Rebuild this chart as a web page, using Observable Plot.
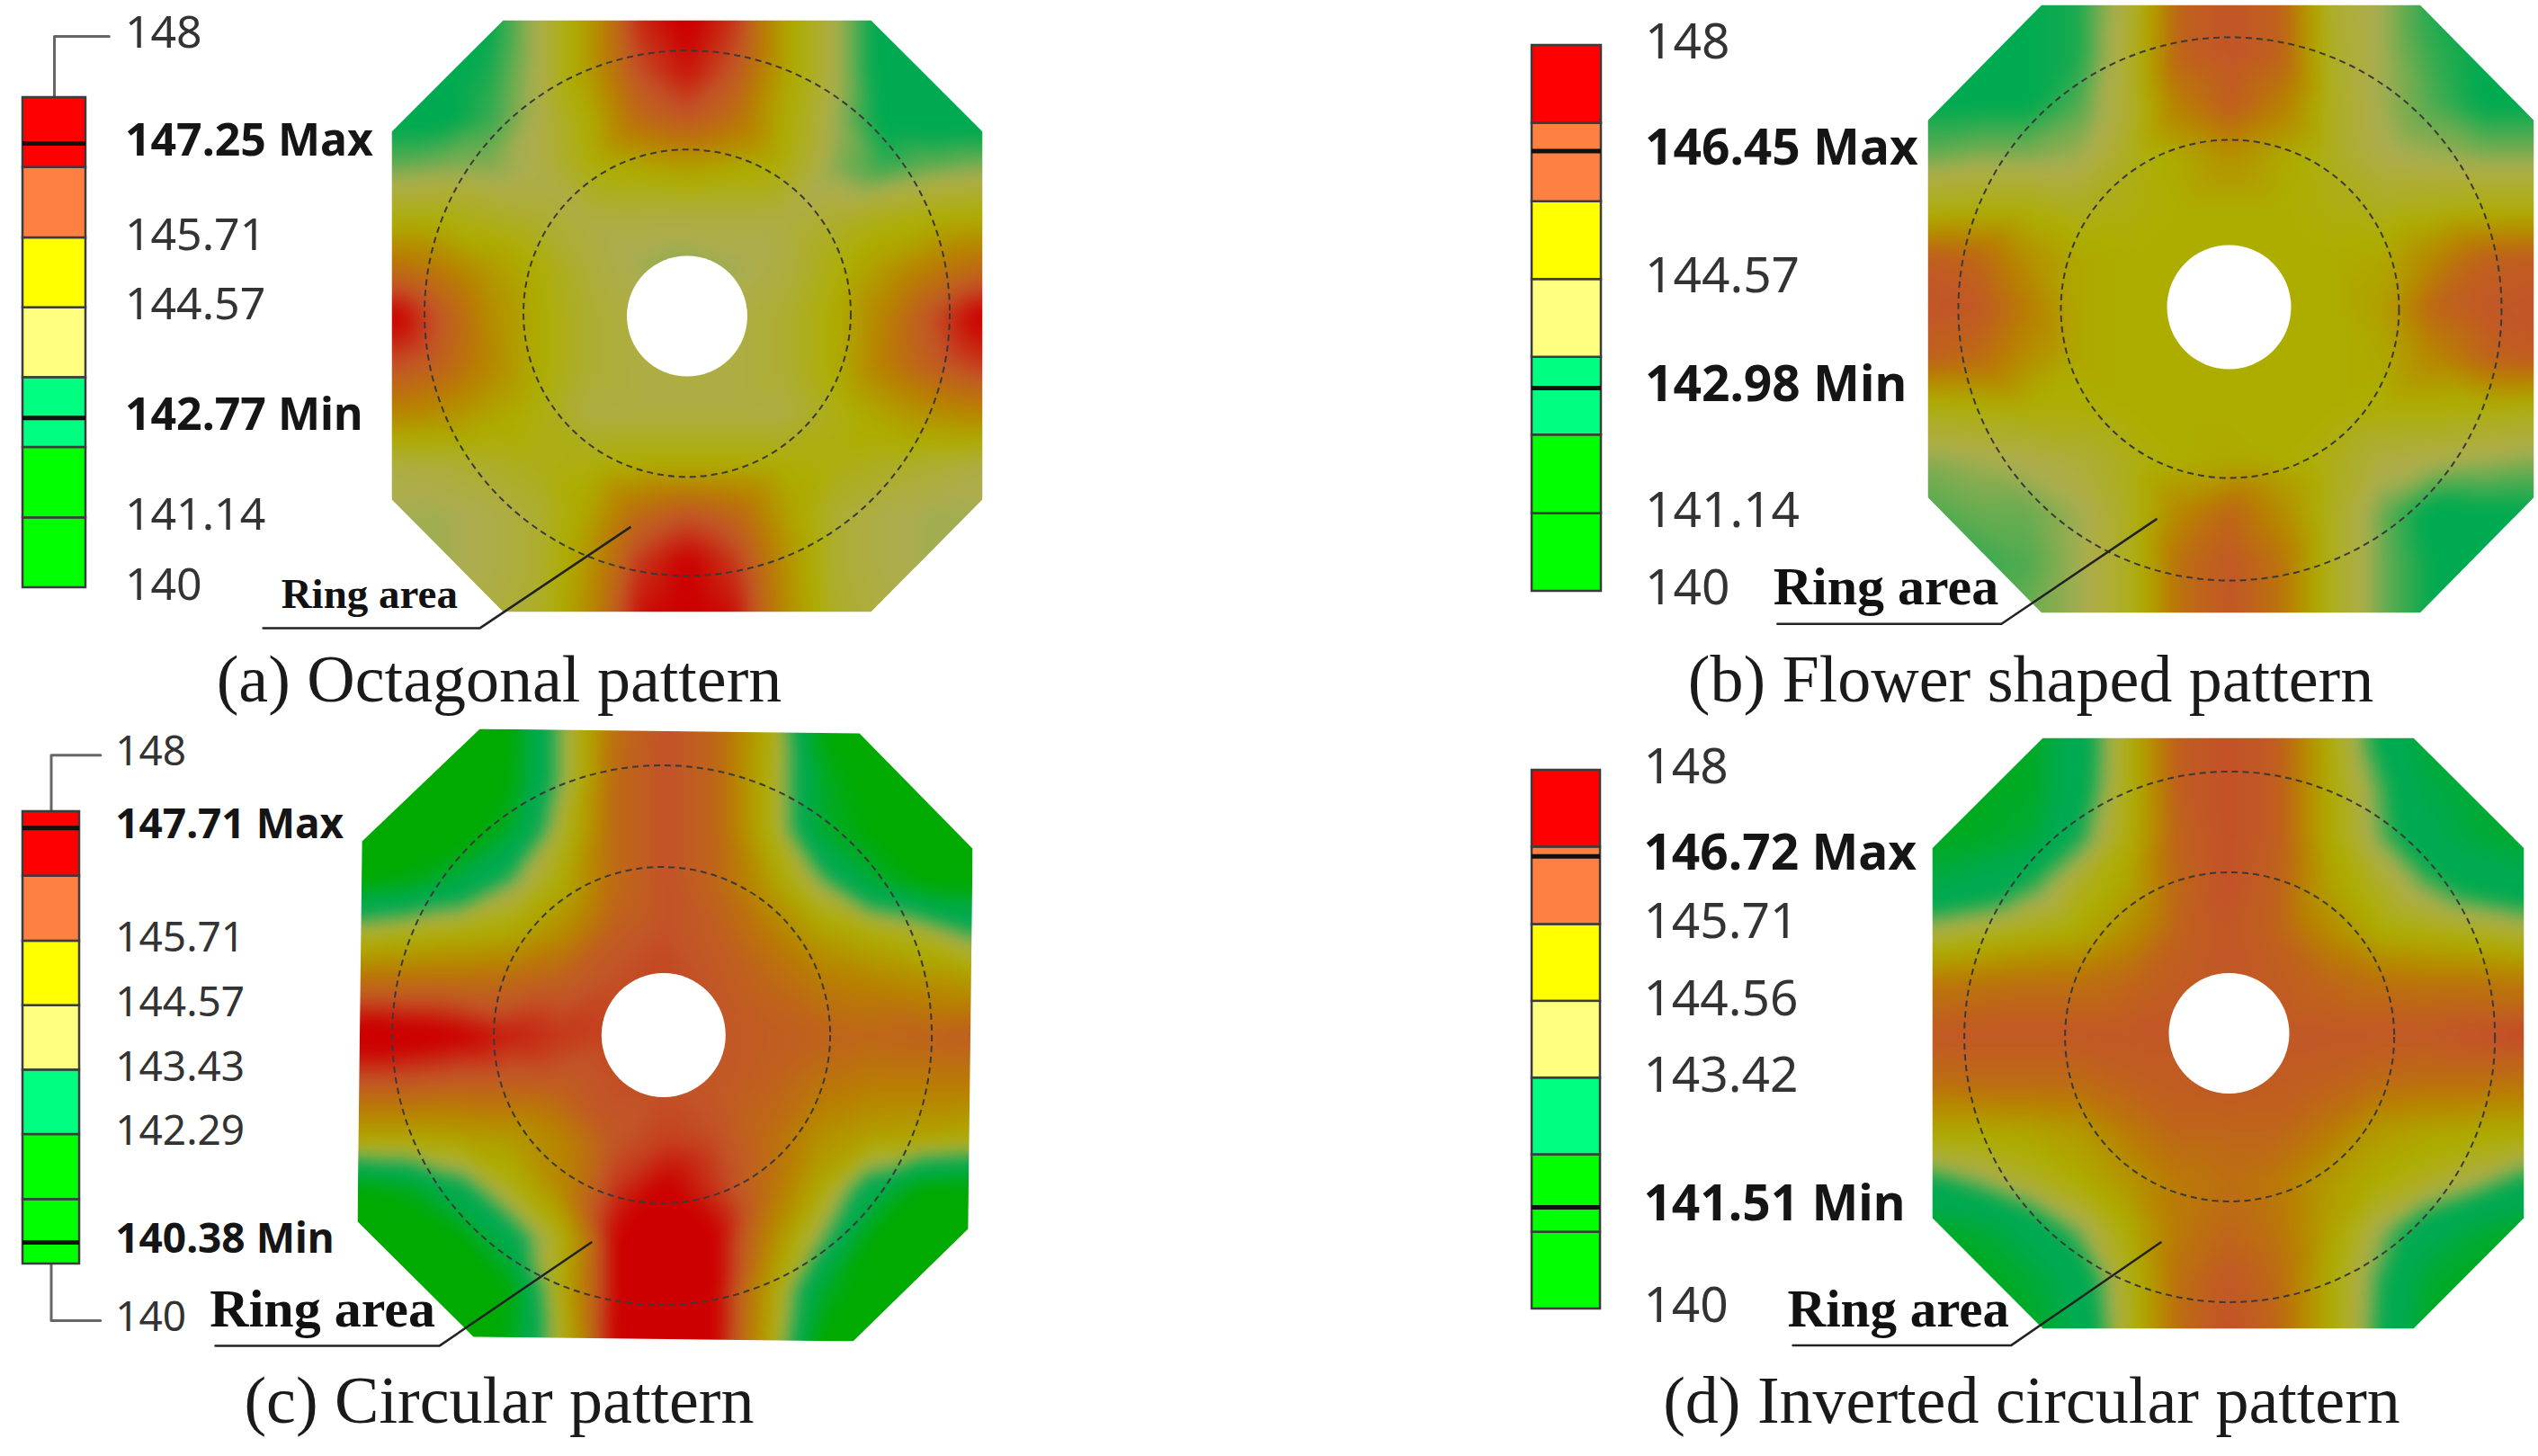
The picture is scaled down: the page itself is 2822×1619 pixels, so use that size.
<!DOCTYPE html>
<html><head><meta charset="utf-8">
<script src="https://cdn.jsdelivr.net/npm/d3@7"></script>
<script src="https://cdn.jsdelivr.net/npm/@observablehq/plot@0.6"></script>
<style>
html,body{margin:0;padding:0;background:#fff}
#page{position:relative;width:2822px;height:1619px;background:#fff;overflow:hidden}
.cap{position:absolute;font-family:"Liberation Serif",serif;font-size:74px;line-height:1;white-space:nowrap;transform:translateX(-50%);color:#1a1a1a}
</style></head><body><div id="page"></div>
<script>
// Temperature grid nodes, plate coordinates from -1 to 1
const gridStops = [-1,-0.8333,-0.6667,-0.5,-0.3333,-0.1667,0,0.1667,0.3333,0.5,0.6667,0.8333,1];
const bandEdges = [140,141.14,142.29,143.43,144.57,145.71,146.86,148];
const bandColors = ["#00ff00","#00ff00","#00ff80","#ffff80","#ffff00","#ff8040","#ff0000"];
const heatValues = [141.2,142.3,143.0,143.65,144.6,145.5,146.45,147.15];
const heatColors = ["#00aa00","#00aa50","#00aa50","#adad50","#adad00","#b88200","#c25528","#cc0000"];

const plateA = [
[142.9,142.9,143.0,143.7,145.0,146.8,147.25,146.7,144.8,143.7,142.8,142.8,142.8],
[142.9,142.9,143.1,143.7,145.0,146.5,147.0,146.4,144.8,143.7,142.8,142.8,142.8],
[142.9,142.9,143.2,143.7,144.6,146.0,146.4,145.9,144.6,143.6,142.9,142.8,142.8],
[143.4,143.5,143.5,143.7,144.4,144.7,144.9,144.7,144.4,143.5,143.2,143.4,143.5],
[144.4,144.4,144.2,144.0,143.8,143.8,143.8,143.8,143.8,144.0,144.3,144.5,144.6],
[145.9,145.6,145.0,144.5,143.9,143.6,143.5,143.6,143.8,144.4,145.0,145.6,146.0],
[147.25,146.4,145.3,144.6,144.0,143.8,143.7,143.8,144.0,144.6,145.5,146.5,147.25],
[146.5,146.2,145.4,144.6,144.0,143.8,143.8,143.8,144.0,144.6,145.6,146.3,146.7],
[145.4,145.2,144.8,144.4,143.8,143.8,143.8,143.8,143.8,144.3,144.8,145.2,145.4],
[143.8,143.9,144.1,144.3,144.4,144.6,144.6,144.6,144.5,144.4,144.2,144.0,143.8],
[143.6,143.6,143.7,144.0,144.8,146.0,146.4,146.1,144.9,144.0,143.7,143.6,143.6],
[143.6,143.6,143.7,144.0,145.1,146.7,147.2,146.7,145.2,144.0,143.7,143.6,143.6],
[143.6,143.6,143.8,144.1,145.3,147.0,147.25,147.0,145.3,144.1,143.8,143.6,143.6]];
const plateB = [
[143.0,143.0,143.0,143.1,143.9,146.2,146.45,146.2,144.0,143.6,143.1,143.0,143.0],
[143.0,143.0,143.0,143.1,144.0,146.2,146.45,146.2,144.1,143.6,143.2,143.0,143.0],
[143.0,143.0,143.0,143.3,144.0,145.6,146.3,145.6,144.2,143.6,143.3,143.0,143.0],
[143.4,143.5,143.5,143.6,144.2,144.7,145.2,144.7,144.2,143.7,143.6,143.5,143.5],
[144.3,144.4,144.4,144.2,144.4,144.6,144.6,144.6,144.4,144.2,144.3,144.4,144.4],
[146.3,146.1,145.2,144.7,144.6,144.6,144.6,144.6,144.6,144.7,145.4,146.2,146.3],
[146.45,146.4,145.6,144.7,144.6,144.6,144.6,144.6,144.6,144.9,146.1,146.4,146.45],
[146.2,146.0,145.2,144.7,144.6,144.6,144.6,144.6,144.6,144.7,145.4,146.1,146.3],
[144.3,144.4,144.5,144.5,144.6,144.6,144.6,144.6,144.6,144.5,144.5,144.4,144.3],
[143.5,143.6,143.7,143.9,144.3,144.6,144.7,144.6,144.3,143.8,143.7,143.6,143.5],
[143.3,143.4,143.4,143.6,144.2,145.4,146.1,145.3,144.2,143.4,142.9,142.98,143.0],
[143.2,143.2,143.3,143.6,144.2,145.9,146.4,145.8,144.2,143.4,143.0,143.0,143.0],
[143.3,143.3,143.4,143.6,144.2,145.9,146.45,145.8,144.2,143.4,143.0,143.0,143.0]];
const plateC = [
[140.5,140.5,140.6,141.2,143.6,145.9,146.5,146.1,144.6,141.4,140.7,140.5,140.5],
[140.5,140.5,140.7,141.3,143.6,146.0,146.5,146.1,144.5,141.8,140.9,140.5,140.5],
[140.6,140.7,140.9,141.8,144.1,146.0,146.5,146.1,144.5,141.9,141.2,140.7,140.5],
[141.2,141.5,142.2,143.4,144.6,146.0,146.5,146.1,145.0,143.6,142.0,141.2,141.1],
[144.0,144.3,144.5,144.7,145.3,146.3,146.5,146.3,145.7,144.9,144.5,144.1,143.2],
[146.0,146.0,146.0,146.1,146.3,146.5,146.6,146.4,146.1,145.7,145.5,145.3,145.1],
[147.5,147.4,147.2,146.9,146.7,146.6,146.5,146.4,146.3,146.2,146.1,146.2,146.3],
[146.3,146.3,146.2,146.2,146.3,146.5,146.5,146.4,146.2,145.8,145.6,145.6,145.6],
[144.8,144.8,144.9,145.0,145.5,146.4,146.6,146.5,146.0,145.2,144.9,144.8,144.6],
[141.2,141.6,142.8,144.3,145.4,146.7,147.2,146.7,145.9,144.7,142.6,141.2,141.0],
[140.7,140.8,141.2,142.6,144.4,147.1,147.71,147.2,145.5,143.6,141.2,141.0,140.8],
[140.4,140.5,140.8,141.3,144.6,147.1,147.7,147.2,145.0,141.9,140.9,140.8,140.5],
[140.38,140.4,140.6,141.5,144.3,147.2,147.7,147.2,144.8,141.2,140.6,140.4,140.4]];
const plateD = [
[141.6,141.6,141.7,142.6,144.4,146.3,146.5,146.3,144.6,143.0,141.9,141.8,141.6],
[141.6,141.6,141.7,142.7,144.4,146.3,146.5,146.3,144.7,143.4,142.2,141.9,141.7],
[141.6,141.7,141.9,143.1,144.5,146.2,146.5,146.3,144.7,143.5,142.4,142.0,141.8],
[142.2,142.5,143.2,144.2,144.8,146.1,146.5,146.2,144.9,144.2,143.4,142.8,142.5],
[143.9,144.2,144.5,144.7,145.3,146.2,146.4,146.2,145.4,144.7,144.5,144.3,144.0],
[145.7,145.8,145.9,145.9,146.1,146.3,146.4,146.3,146.1,145.9,145.8,145.8,145.7],
[146.4,146.4,146.4,146.4,146.4,146.4,146.4,146.4,146.4,146.4,146.4,146.5,146.6],
[145.9,146.0,146.0,146.0,146.2,146.3,146.4,146.3,146.2,146.0,145.9,145.9,145.8],
[144.7,144.7,144.8,145.0,145.7,146.1,146.1,146.1,145.7,145.0,144.8,144.7,144.6],
[143.0,143.5,144.1,144.6,145.1,145.7,145.9,145.7,145.0,144.6,144.2,143.7,143.0],
[141.7,141.9,142.5,143.5,144.6,145.7,146.1,145.8,144.9,143.7,142.6,142.0,141.7],
[141.51,141.6,141.9,142.6,144.3,145.9,146.4,146.0,144.7,143.3,141.9,141.6,141.5],
[141.51,141.6,141.7,142.4,144.2,146.0,146.5,146.1,144.7,143.2,141.7,141.5,141.5]];

const ticksA = [148,147.25,145.71,144.57,142.77,141.14,140];
const ticksB = [148,146.45,144.57,142.98,141.14,140];
const ticksC = [148,147.71,145.71,144.57,143.43,142.29,140.38,140];
const ticksD = [148,146.72,145.71,144.56,143.42,141.51,140];
const extremesA = [147.25,142.77];
const extremesB = [146.45,142.98];
const extremesC = [147.71,140.38];
const extremesD = [146.72,141.51];
const captions = ["(a) Octagonal pattern","(b) Flower shaped pattern","(c) Circular pattern","(d) Inverted circular pattern"];
const ringLabel = "Ring area";

const panels = [
 {grid:plateA,ticks:ticksA,ext:extremesA,caption:captions[0],capX:555,capTop:718,
  bar:{l:25,t:108,w:70,h:545},font:50,tickDy:-3,labelX:1.62,top148:true,bot140:false,
  plate:{l:435,t:22,w:657,h:658},circle:[0,-.01],hole:[0,0],rs:[292,182,67],
  outline:[[-.622,-1],[.622,-1],[1,-.623],[1,.619],[.622,1],[-.622,1],[-1,.619],[-1,-.623]],
  leader:[[-.193,.714],[-.702,1.055],[-1.435,1.055]],ring:[-1.374,.985],ringFont:47},
 {grid:plateB,ticks:ticksB,ext:extremesB,caption:captions[1],capX:2258,capTop:718,
  bar:{l:1703,t:50,w:77,h:607},font:55,tickDy:-3,labelX:1.63,top148:false,bot140:false,
  plate:{l:2143,t:5,w:674,h:676},circle:[-.003,0],hole:[-.006,-.006],rs:[302,188,69],
  outline:[[-.624,-1],[.624,-1],[1,-.62],[1,.62],[.624,1],[-.624,1],[-1,.62],[-1,-.62]],
  leader:[[-.246,.692],[-.757,1.036],[-1.496,1.036]],ring:[-1.51,.973],ringFont:60},
 {grid:plateC,ticks:ticksC,ext:extremesC,caption:captions[2],capX:555,capTop:1520,
  bar:{l:25,t:902,w:63,h:503},font:46,tickDy:-3,labelX:1.63,top148:true,bot140:true,
  plate:{l:397,t:810,w:684,h:681},circle:[-.01,0],hole:[-.005,0],rs:[300,187,69],
  outline:[[-.602,-1],[.632,-.985],[1,-.609],[.985,.633],[.611,1],[-.623,.985],[-1,.609],[-.985,-.633]],
  leader:[[-.24,.677],[-.734,1.015],[-1.462,1.015]],ring:[-1.48,.953],ringFont:60},
 {grid:plateD,ticks:ticksD,ext:extremesD,caption:captions[3],capX:2259,capTop:1520,
  bar:{l:1703,t:856,w:76,h:599},font:55,tickDy:-3,labelX:1.63,top148:false,bot140:false,
  plate:{l:2148,t:820,w:658,h:657},circle:[.005,.012],hole:[.003,0],rs:[295,183,67],
  outline:[[-.626,-1],[.626,-1],[1,-.626],[1,.625],[.626,1],[-.626,1],[-1,.625],[-1,-.626]],
  leader:[[-.228,.708],[-.733,1.056],[-1.471,1.056]],ring:[-1.489,.991],ringFont:59}
];

const page = document.getElementById("page");
const place = (node,l,t)=>{node.style.position="absolute";node.style.left=l+"px";node.style.top=t+"px";node.style.maxWidth="none";page.append(node);};
const bare = {background:"transparent",overflow:"visible"};

for (const p of panels) {
  // colour legend: the svg reaches up to the page edge so the offset labels stay inside it
  const bands = bandColors.map((c,i)=>({y1:bandEdges[i],y2:bandEdges[i+1],c}));
  const labelY = d => (d===148&&p.top148)?149:(d===140&&p.bot140)?139:d;
  const isExt = d => p.ext.includes(d);
  const labelOf = d => d===p.ext[0]?`${d} Max`:d===p.ext[1]?`${d} Min`:`${d}`;
  const m = Math.min(p.bar.t,100);
  const leaders = [];
  if (p.top148) leaders.push(Plot.line([[.5,148],[.5,149],[1.37,149]],{stroke:"#666",strokeWidth:3}));
  if (p.bot140) leaders.push(Plot.line([[.5,140],[.5,139],[1.37,139]],{stroke:"#666",strokeWidth:3}));
  const legend = Plot.plot({
    width:p.bar.w+400,height:p.bar.h+2*m,
    marginLeft:0,marginRight:400,marginTop:m,marginBottom:m,
    x:{domain:[0,1],axis:null},y:{domain:[140,148],axis:null},
    style:bare,
    marks:[
      ...leaders,
      Plot.rect(bands,{x1:0,x2:1,y1:"y1",y2:"y2",fill:"c",stroke:"#3c3c3c",strokeWidth:2.5}),
      Plot.ruleY(p.ext,{x1:0,x2:1,stroke:"#111",strokeWidth:5}),
      Plot.text(p.ticks.filter(d=>!isExt(d)),{x:()=>p.labelX,y:labelY,text:labelOf,textAnchor:"start",dy:p.tickDy,
        fontFamily:"Noto Sans",fontSize:p.font,fill:"#333"}),
      Plot.text(p.ticks.filter(isExt),{x:()=>p.labelX,y:labelY,text:labelOf,textAnchor:"start",dy:p.tickDy,
        fontFamily:"Noto Sans",fontSize:p.font,fontWeight:700,fill:"#151515"})
    ]
  });
  place(legend,p.bar.l,p.bar.t-m);

  // temperature plate; the mask runs against the frame's winding so the octagon stays open
  const cells = p.grid.flatMap((row,r)=>row.map((t,c)=>({u:gridStops[c],v:gridStops[r],t})));
  const outer = [[-1.03,-1.03],[1.03,-1.03],[1.03,1.03],[-1.03,1.03],[-1.03,-1.03]];
  const hollow = [...p.outline,p.outline[0]].reverse();
  const mask = [...outer,...hollow,outer[0]];
  const ml=320,mr=5,mt=5,mb=60;
  const plate = Plot.plot({
    width:p.plate.w+ml+mr,height:p.plate.h+mt+mb,
    marginLeft:ml,marginRight:mr,marginTop:mt,marginBottom:mb,
    x:{domain:[-1,1],axis:null},y:{domain:[-1,1],reverse:true,axis:null},
    color:{type:"linear",domain:heatValues,range:heatColors,clamp:true,interpolate:"rgb"},
    style:bare,
    marks:[
      Plot.raster(cells,{x:"u",y:"v",fill:"t",interpolate:"barycentric",blur:8}),
      Plot.line(mask,{fill:"white",stroke:"none"}),
      Plot.dot([p.hole],{r:p.rs[2],fill:"white",stroke:"none"}),
      Plot.dot([p.circle],{r:p.rs[0],stroke:"#3a3a3a",strokeWidth:2,strokeDasharray:"7,5",fill:"none"}),
      Plot.dot([p.circle],{r:p.rs[1],stroke:"#3a3a3a",strokeWidth:2,strokeDasharray:"7,5",fill:"none"}),
      Plot.line(p.leader,{stroke:"#222",strokeWidth:2.5}),
      Plot.text([p.ring],{text:()=>ringLabel,textAnchor:"start",lineAnchor:"bottom",
        fontFamily:"Liberation Serif",fontWeight:700,fontSize:p.ringFont,fill:"#111"})
    ]
  });
  place(plate,p.plate.l-ml,p.plate.t-mt);

  const cap = document.createElement("div");
  cap.className="cap";cap.textContent=p.caption;
  cap.style.left=p.capX+"px";cap.style.top=p.capTop+"px";
  page.append(cap);
}
</script></body></html>
